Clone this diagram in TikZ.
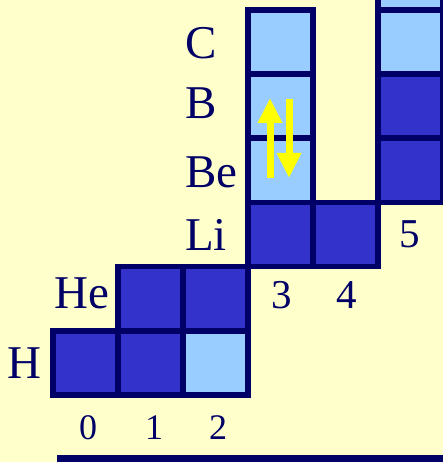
\documentclass[tikz,border=0pt]{standalone}
\usepackage{fontspec}
\newfontfamily\labelfont{Liberation Serif}
\usepackage{xcolor}
\definecolor{cream}{RGB}{255,255,204}
\definecolor{navy}{RGB}{0,0,102}
\definecolor{filled}{RGB}{51,51,204}
\definecolor{vacant}{RGB}{153,204,255}
\definecolor{spin}{RGB}{255,255,0}
\usetikzlibrary{arrows.meta,positioning}
\tikzset{
  cell/.style={draw=navy, line width=5.5pt, minimum width=65pt,
               minimum height=64.2pt, inner sep=0pt, outer sep=0pt},
  occ/.style={cell, fill=filled},
  vac/.style={cell, fill=vacant},
  elem/.style={font=\labelfont\fontsize{47}{50}\selectfont, text=navy,
               inner sep=0pt, anchor=base west},
  shell/.style={font=\labelfont\fontsize{36}{40}\selectfont, text=navy,
                inner sep=0pt, anchor=base},
  bigshell/.style={shell, font=\labelfont\fontsize{41}{44}\selectfont},
  spinarrow/.style={draw=spin, line width=7pt,
                    -{Triangle[width=23pt,length=25pt]}},
}

\begin{document}
\begin{tikzpicture}[x=1pt,y=-1pt]
\useasboundingbox (0,0) rectangle (443,462);
\clip (0,0) rectangle (443,462);
\fill[cream] (0,0) rectangle (443,462);

% occupied / vacant levels, column/row
\foreach \c/\r/\s in {0/0/occ,1/0/occ,2/0/vac,1/1/occ,2/1/occ,
                      3/2/occ,4/2/occ,3/3/vac,3/4/vac,3/5/vac,
                      5/3/occ,5/4/occ,5/5/vac,5/6/vac}
  \node[\s] (cell\c\r) at ({85.5+65*\c},{362.9-64.2*\r}) {};

% spin pair in the Be cell
\draw[spinarrow] (270,178) -- (270,98);
\draw[spinarrow] (289,99) -- (289,178);

% element labels
\node[elem] (lblC)  at (185,59)  {C};
\node[elem] (lblB)  at (185,119) {B};
\node[elem] (lblBe) at (185,187) {Be};
\node[elem] (lblLi) at (185,250) {Li};
\node[elem] (lblHe) at (54,308)  {He};
\node[elem] (lblH)  at (7,378)   {H};

% level numbers
\node[shell] (n0) at (88,439)  {0};
\node[shell] (n1) at (154,439) {1};
\node[shell] (n2) at (218,439) {2};
\node[bigshell] (n3) at (282,308) {3};
\node[bigshell] (n4) at (347,308) {4};
\node[bigshell] (n5) at (410,247) {5};

\fill[navy] (57,455) rectangle (443,462);
\end{tikzpicture}
\end{document}
